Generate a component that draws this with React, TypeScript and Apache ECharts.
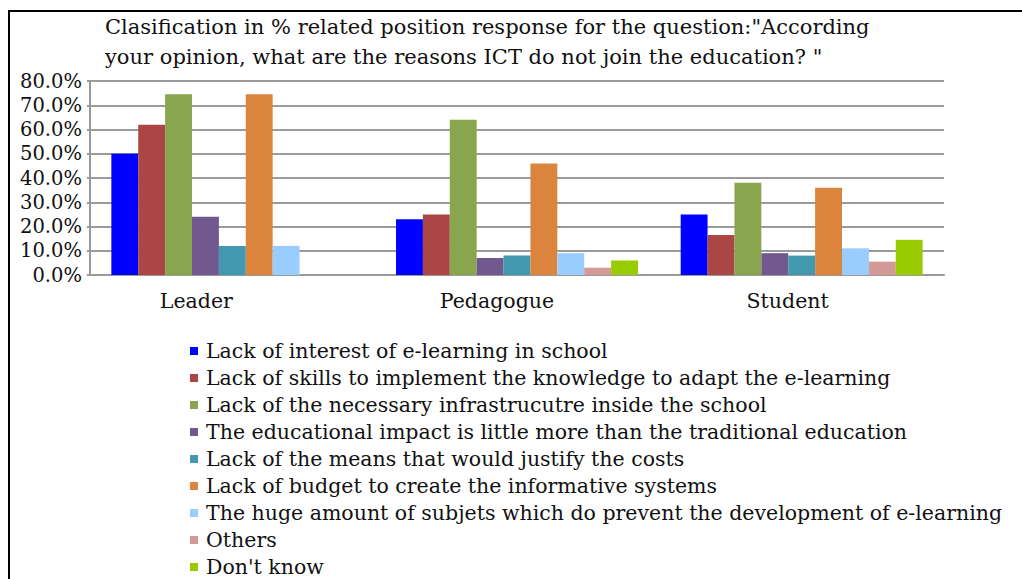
import React, { useEffect, useRef } from "react";
import * as echarts from "echarts";

const categories = ["Leader", "Pedagogue", "Student"];
const seriesNames = [
  "Lack of interest of e-learning in school",
  "Lack of skills to implement the knowledge to adapt the e-learning",
  "Lack of the necessary infrastrucutre inside the school",
  "The educational impact is little more than the traditional education",
  "Lack of the means that would justify the costs",
  "Lack of budget to create the informative systems",
  "The huge amount of subjets which do prevent the development of e-learning",
  "Others",
  "Don't know",
];
const interestValues = [50, 23, 25];
const skillsValues = [62, 25, 16.5];
const infrastructureValues = [74.5, 64, 38];
const impactValues = [24, 7, 9];
const meansValues = [12, 8, 8];
const budgetValues = [74.5, 46, 36];
const subjectsValues = [12, 9, 11];
const othersValues = [0, 3, 5.5];
const dontKnowValues = [0, 6, 14.5];
const seriesValues = [
  interestValues,
  skillsValues,
  infrastructureValues,
  impactValues,
  meansValues,
  budgetValues,
  subjectsValues,
  othersValues,
  dontKnowValues,
];
const colors = [
  "#0000FF",
  "#AA4643",
  "#89A54E",
  "#71588F",
  "#4198AF",
  "#DB843D",
  "#99CCFF",
  "#D49A98",
  "#99CC00",
];
const titleLines = [
  'Clasification in % related position response for the question:"According',
  'your opinion, what are the reasons ICT do not join the education? "',
];

const FONT = "'DejaVu Serif', serif";

export default function App() {
  const ref = useRef<HTMLDivElement>(null);
  useEffect(() => {
    if (!ref.current) return;
    const chart = echarts.init(ref.current, null, { renderer: "svg" });
    const labelPad: Record<string, number> = { Leader: 72, Pedagogue: 40, Student: 28 };
    chart.setOption({
      animation: false,
      backgroundColor: "#ffffff",
      color: colors,
      grid: { left: 90, top: 81, width: 854, height: 194, containLabel: false },
      title: {
        text: titleLines.join("\n"),
        left: 100,
        top: 7,
        textStyle: {
          fontFamily: FONT,
          fontSize: 21,
          fontWeight: "normal",
          color: "#111",
          lineHeight: 30,
        },
      },
      legend: {
        orient: "vertical",
        left: 185,
        top: 335,
        height: 300,
        itemWidth: 8,
        itemHeight: 8,
        itemGap: 5.0,
        icon: "rect",
        data: seriesNames,
        textStyle: { fontFamily: FONT, fontSize: 20.5, color: "#111", lineHeight: 22, padding: [0, 0, 0, 3] },
      },
      xAxis: {
        type: "category",
        data: categories,
        axisLine: { show: true, lineStyle: { color: "#9a9a9a", width: 2 } },
        axisTick: { show: false },
        axisLabel: {
          interval: 0,
          margin: 15,
          fontFamily: FONT,
          fontSize: 20.5,
          color: "#111",
          formatter: (v: string) => `{${v}|${v}}`,
          rich: Object.fromEntries(
            categories.map((c) => [
              c,
              { fontFamily: FONT, fontSize: 20.5, color: "#111", padding: [0, labelPad[c] || 0, 0, 0] },
            ])
          ),
        },
      },
      yAxis: {
        type: "value",
        min: 0,
        max: 80,
        interval: 10,
        axisLine: { show: true, lineStyle: { color: "#9a9a9a", width: 2 } },
        axisTick: { show: true, length: 3, lineStyle: { color: "#9a9a9a", width: 2 } },
        splitLine: { show: true, lineStyle: { color: "#9a9a9a", width: 2 } },
        axisLabel: {
          margin: 8,
          fontFamily: FONT,
          fontSize: 19.5,
          color: "#111",
          formatter: (v: number) => `${v.toFixed(1)}%`,
        },
      },
      series: seriesNames.map((name, i) => ({
        name,
        type: "bar",
        data: seriesValues[i],
        barGap: "0%",
        barCategoryGap: "15%",
        itemStyle: { color: colors[i] },
      })),
      graphic: [
        { type: "line", shape: { x1: 9, y1: 10, x2: 9, y2: 640 }, style: { stroke: "#000", lineWidth: 2 } },
        { type: "line", shape: { x1: 8, y1: 11, x2: 1022, y2: 11 }, style: { stroke: "#000", lineWidth: 2 } },
      ],
    });
    return () => chart.dispose();
  }, []);
  return (
    <div
      ref={ref}
      style={{ position: "fixed", left: 0, top: 0, width: 1022, height: 640 }}
    />
  );
}
